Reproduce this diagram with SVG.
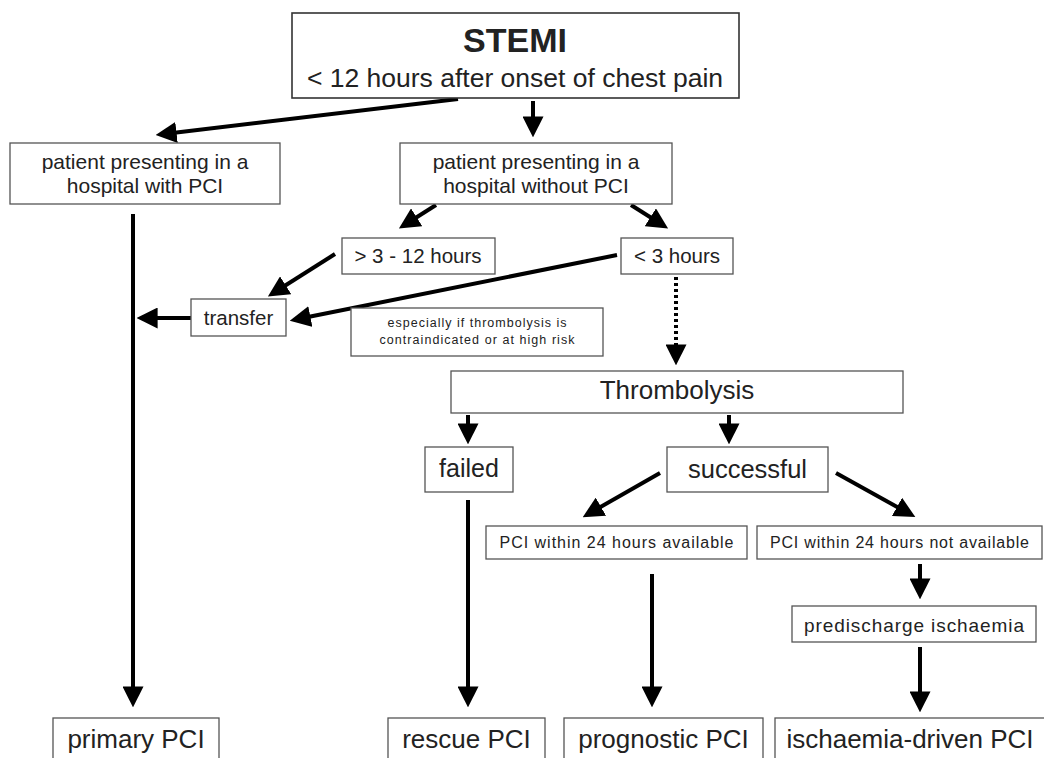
<svg xmlns="http://www.w3.org/2000/svg" width="1044" height="758" viewBox="0 0 1044 758">
<style>
text{font-family:"Liberation Sans",Arial,sans-serif;fill:#222;text-anchor:middle}
.box{fill:#fff;stroke:#555;stroke-width:1.3}
.main{stroke:#333;stroke-width:1.6}
.c{stroke:#000;stroke-width:4;fill:none}
.dot{stroke-dasharray:3 3}
</style>
<defs>
<marker id="ah" viewBox="0 0 20 20" markerWidth="21" markerHeight="21" refX="12" refY="10" orient="auto" markerUnits="userSpaceOnUse">
<path d="M0,0 L20,10 L0,20 z" fill="#000"/>
</marker>
</defs>
<rect width="1044" height="758" fill="#fff"/>
<g id="connectors">
<line class="c" x1="458" y1="99" x2="164" y2="134" marker-end="url(#ah)"/>
<line class="c" x1="533" y1="101" x2="533" y2="129" marker-end="url(#ah)"/>
<line class="c" x1="436" y1="205" x2="406" y2="224" marker-end="url(#ah)"/>
<line class="c" x1="631" y1="205" x2="661" y2="224" marker-end="url(#ah)"/>
<line class="c" x1="335" y1="254" x2="275" y2="292" marker-end="url(#ah)"/>
<line class="c" x1="617" y1="255" x2="298" y2="319" marker-end="url(#ah)"/>
<line class="c" x1="191" y1="318" x2="145" y2="318" marker-end="url(#ah)"/>
<line class="c" x1="133" y1="214" x2="133" y2="699" marker-end="url(#ah)"/>
<line class="c dot" x1="676" y1="277" x2="676" y2="357" marker-end="url(#ah)"/>
<line class="c" x1="468" y1="415" x2="468" y2="436" marker-end="url(#ah)"/>
<line class="c" x1="729" y1="415" x2="729" y2="436" marker-end="url(#ah)"/>
<line class="c" x1="468" y1="500" x2="468" y2="699" marker-end="url(#ah)"/>
<line class="c" x1="660" y1="473" x2="590" y2="513" marker-end="url(#ah)"/>
<line class="c" x1="836" y1="473" x2="908" y2="513" marker-end="url(#ah)"/>
<line class="c" x1="652" y1="574" x2="652" y2="699" marker-end="url(#ah)"/>
<line class="c" x1="920" y1="564" x2="920" y2="591" marker-end="url(#ah)"/>
<line class="c" x1="920" y1="647" x2="920" y2="704" marker-end="url(#ah)"/>
</g>
<g id="stemi">
<rect class="box main" x="292" y="13" width="447" height="85"/>
<text x="515" y="52" font-size="34" font-weight="bold">STEMI</text>
<text x="515" y="87" font-size="26.5">&lt; 12 hours after onset of chest pain</text>
</g>
<g id="with-pci">
<rect class="box" x="10" y="143" width="270" height="61"/>
<text x="145" y="169" font-size="21">patient presenting in a</text>
<text x="145" y="193" font-size="21">hospital with PCI</text>
</g>
<g id="without-pci">
<rect class="box" x="400" y="143" width="272" height="61"/>
<text x="536" y="169" font-size="21">patient presenting in a</text>
<text x="536" y="193" font-size="21">hospital without PCI</text>
</g>
<g id="gt3">
<rect class="box" x="342" y="238" width="153" height="36"/>
<text x="418" y="263" font-size="20.5">&gt; 3 - 12 hours</text>
</g>
<g id="lt3">
<rect class="box" x="621" y="238" width="112" height="36"/>
<text x="677" y="263" font-size="20.5">&lt; 3 hours</text>
</g>
<g id="transfer">
<rect class="box" x="191" y="299" width="95" height="37"/>
<text x="238.5" y="325" font-size="20.5">transfer</text>
</g>
<g id="note">
<rect class="box" x="351" y="308" width="252" height="48"/>
<text x="477" y="327" font-size="12.5" textLength="179" lengthAdjust="spacing">especially if thrombolysis is</text>
<text x="477" y="344" font-size="12.5" textLength="195" lengthAdjust="spacing">contraindicated or at  high risk</text>
</g>
<g id="thrombolysis">
<rect class="box" x="451" y="371" width="452" height="42"/>
<text x="677" y="399" font-size="26">Thrombolysis</text>
</g>
<g id="failed">
<rect class="box" x="425" y="447" width="88" height="45"/>
<text x="469" y="477" font-size="25">failed</text>
</g>
<g id="successful">
<rect class="box" x="667" y="447" width="161" height="45"/>
<text x="747.5" y="478" font-size="25.5">successful</text>
</g>
<g id="pci-available">
<rect class="box" x="486" y="526" width="261" height="33"/>
<text x="616.5" y="548" font-size="16" textLength="234" lengthAdjust="spacing">PCI within 24 hours available</text>
</g>
<g id="pci-not-available">
<rect class="box" x="757" y="526" width="285" height="33"/>
<text x="899.5" y="548" font-size="16" textLength="259" lengthAdjust="spacing">PCI within 24 hours not available</text>
</g>
<g id="predischarge">
<rect class="box" x="792" y="606" width="244" height="36"/>
<text x="914" y="632" font-size="19" textLength="220" lengthAdjust="spacing">predischarge ischaemia</text>
</g>
<g id="primary-pci">
<rect class="box" x="53" y="718" width="166" height="60"/>
<text x="136" y="748" font-size="26">primary PCI</text>
</g>
<g id="rescue-pci">
<rect class="box" x="388" y="718" width="157" height="60"/>
<text x="466.5" y="748" font-size="26">rescue PCI</text>
</g>
<g id="prognostic-pci">
<rect class="box" x="564" y="718" width="199" height="60"/>
<text x="663.5" y="748" font-size="26">prognostic PCI</text>
</g>
<g id="ischaemia-pci">
<rect class="box" x="775" y="718" width="290" height="60"/>
<text x="910" y="748" font-size="26">ischaemia-driven PCI</text>
</g>
</svg>
